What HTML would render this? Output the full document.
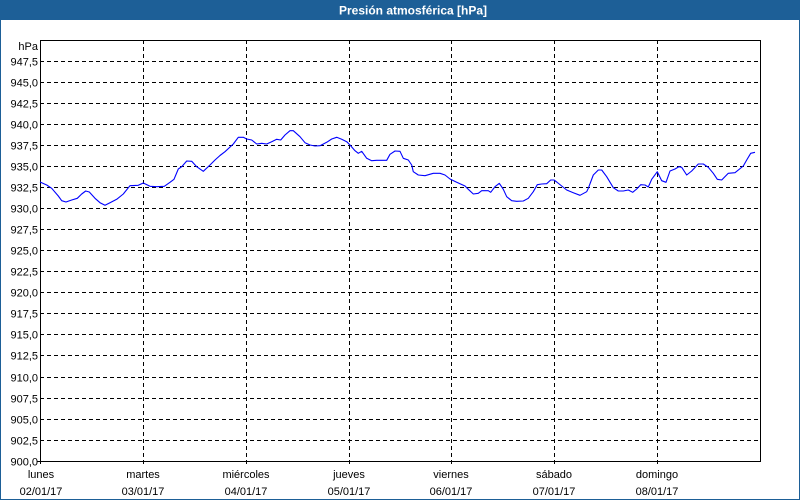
<!DOCTYPE html>
<html><head><meta charset="utf-8"><style>
html,body{margin:0;padding:0;background:#fff}
svg{display:block}
text{font-family:"Liberation Sans","DejaVu Sans",sans-serif}
</style></head><body>
<svg width="800" height="500" viewBox="0 0 800 500" xmlns="http://www.w3.org/2000/svg">
<rect x="0" y="0" width="800" height="500" fill="#fff"/>
<rect x="0" y="0" width="800" height="20" fill="#1d5f97"/>
<rect x="0.5" y="0.5" width="799" height="499" fill="none" stroke="#1d5f97" stroke-width="1"/>
<text x="413" y="14.5" fill="#fff" font-size="12" font-weight="bold" text-anchor="middle">Presión atmosférica [hPa]</text>

<g stroke="#000" stroke-width="1" stroke-dasharray="4,3" shape-rendering="crispEdges">
<line x1="40" y1="61.5" x2="760" y2="61.5"/>
<line x1="40" y1="82.5" x2="760" y2="82.5"/>
<line x1="40" y1="103.5" x2="760" y2="103.5"/>
<line x1="40" y1="124.5" x2="760" y2="124.5"/>
<line x1="40" y1="145.5" x2="760" y2="145.5"/>
<line x1="40" y1="166.5" x2="760" y2="166.5"/>
<line x1="40" y1="187.5" x2="760" y2="187.5"/>
<line x1="40" y1="208.5" x2="760" y2="208.5"/>
<line x1="40" y1="229.5" x2="760" y2="229.5"/>
<line x1="40" y1="250.5" x2="760" y2="250.5"/>
<line x1="40" y1="271.5" x2="760" y2="271.5"/>
<line x1="40" y1="292.5" x2="760" y2="292.5"/>
<line x1="40" y1="313.5" x2="760" y2="313.5"/>
<line x1="40" y1="334.5" x2="760" y2="334.5"/>
<line x1="40" y1="355.5" x2="760" y2="355.5"/>
<line x1="40" y1="377.5" x2="760" y2="377.5"/>
<line x1="40" y1="398.5" x2="760" y2="398.5"/>
<line x1="40" y1="419.5" x2="760" y2="419.5"/>
<line x1="40" y1="440.5" x2="760" y2="440.5"/>
<line x1="143.5" y1="40" x2="143.5" y2="465"/>
<line x1="246.5" y1="40" x2="246.5" y2="465"/>
<line x1="349.5" y1="40" x2="349.5" y2="465"/>
<line x1="451.5" y1="40" x2="451.5" y2="465"/>
<line x1="554.5" y1="40" x2="554.5" y2="465"/>
<line x1="657.5" y1="40" x2="657.5" y2="465"/>
</g>
<g stroke="#000" stroke-width="1" shape-rendering="crispEdges" fill="none">
<polyline points="40.5,464 40.5,40.5 760.5,40.5 760.5,461.5 37,461.5"/>
</g>

<g font-size="11" fill="#000" text-anchor="end">
<text x="38" y="50">hPa</text>
<text x="38" y="65.5">947,5</text>
<text x="38" y="86.5">945,0</text>
<text x="38" y="107.5">942,5</text>
<text x="38" y="128.5">940,0</text>
<text x="38" y="149.5">937,5</text>
<text x="38" y="170.5">935,0</text>
<text x="38" y="191.5">932,5</text>
<text x="38" y="212.5">930,0</text>
<text x="38" y="233.5">927,5</text>
<text x="38" y="254.5">925,0</text>
<text x="38" y="275.5">922,5</text>
<text x="38" y="296.5">920,0</text>
<text x="38" y="317.5">917,5</text>
<text x="38" y="338.5">915,0</text>
<text x="38" y="359.5">912,5</text>
<text x="38" y="381.5">910,0</text>
<text x="38" y="402.5">907,5</text>
<text x="38" y="423.5">905,0</text>
<text x="38" y="444.5">902,5</text>
<text x="38" y="465.5">900,0</text>
</g>

<g font-size="11" fill="#000" text-anchor="middle">
<text x="41" y="478">lunes</text><text x="41" y="495">02/01/17</text>
<text x="143" y="478">martes</text><text x="143" y="495">03/01/17</text>
<text x="246" y="478">miércoles</text><text x="246" y="495">04/01/17</text>
<text x="349" y="478">jueves</text><text x="349" y="495">05/01/17</text>
<text x="451" y="478">viernes</text><text x="451" y="495">06/01/17</text>
<text x="554" y="478">sábado</text><text x="554" y="495">07/01/17</text>
<text x="657" y="478">domingo</text><text x="657" y="495">08/01/17</text>
</g>

<polyline fill="none" stroke="#0000ff" stroke-width="1.1" stroke-linejoin="round" points="
40,182 46.7,185 51.7,188.3 58.3,196 61.7,200.7 66,202 71.7,200 77.3,198.3 81.7,194 85.7,191 89.3,192 95,198.3 100,202.7 105,205.3 110,202.7 116.7,199.3 123.3,194 130,185.7 138.3,185.3 143.3,183 150,186.3 156.7,186.7 164.3,186.3 170,182.3 174,179.3 178.3,169 181.7,166.7 186.7,161 191.7,161.3 196.7,166.7 203.3,171.3 210,165 215,160 220,155.5
225,151.7 233.3,144 238.3,137.3 243.3,137.3 246.7,139 251.7,140 256.7,144 261.7,143.3 266.7,144 271.7,141.7 276.7,139.3 280.7,140 285,135 290,130.7 293.3,130.7 300,136.7 305,142.7 310,145 315,146 320,145.7 326.7,142.3 331.7,139 336.7,137.3 341.7,139.3 346.7,141.7 350,145 355,150.7 358.3,153.3 361.7,151.3 366.7,158.3 371.7,160.7 376.7,160.3 386.7,160.3 390,154.3 395,151 400,151.3
403.3,158.3 408.3,160 411.7,165 413.3,171.7 418.3,175 425,175.7 433.3,173.3 440,173.3 445,175 450,179 456.7,182.3 465,186 468.3,189.3 473.3,194 478.3,193.3 481.7,190.7 488.3,190.7 490.7,192.3 495,186.7 499.3,183.3 503.3,189.3 506.7,196.7 511.7,200.7 516.7,201.3 523.3,201 528.3,198.3 533.3,191.7 537.3,184.7 541.7,184 546.7,183.7 550.7,180 554,180 556.7,182 561.7,186 566.7,190 573.3,192.7 580,195.3
586.7,191.7 588.3,188.3 593.3,175 598.3,170 601.7,170 606.7,176.7 613.3,187.7 618.3,191 623.3,191 628.3,190 632.7,192.3 636.7,189 640.7,184.7 645,185 648.3,187 651.7,179.3 657.3,171.7 661.7,180.7 666,182.3 670,171 675,169 679,166.7 681.7,167.3 686.7,175 691.7,171 698.3,164 703.3,164 708.3,167.3 713.3,173.3 717.3,179.3 721.7,180 728.3,173.3 735,172.7 743.3,166 746.7,160 750.7,153.3 755,152.3"/>
</svg>
</body></html>
